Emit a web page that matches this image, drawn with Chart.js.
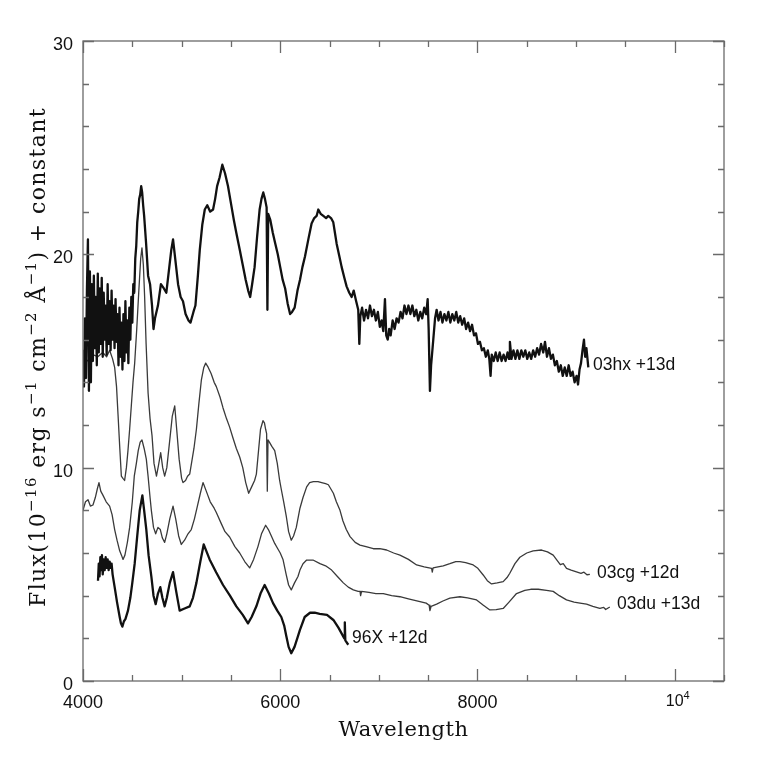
<!DOCTYPE html>
<html>
<head>
<meta charset="utf-8">
<script src="https://cdn.jsdelivr.net/npm/chart.js@4.4.1/dist/chart.umd.min.js"></script>
<style>
  html, body { margin: 0; padding: 0; background: #fff; }
  #wrap { width: 764px; height: 763px; }
</style>
</head>
<body>
<div id="wrap"><canvas id="spec" width="764" height="763"></canvas></div>
<script>
// spectra (wavelength in Å, flux + constant)
const hxWave = [4000,4010,4020,4030,4040,4050,4060,4070,4080,4090,4100,4110,4120,4130,4140,4150,4160,4170,4180,4190,
  4200,4210,4220,4230,4240,4250,4260,4270,4280,4290,4300,4310,4320,4330,4340,4350,4360,4370,4380,4390,
  4400,4410,4420,4430,4440,4450,4460,4470,4480,4490,4500,4510,4520,4530,4540,4550,4560,4570,4580,4590,
  4600,4610,4620,4640,4660,4680,4700,4715,4730,4760,4790,4820,4845,4870,4895,4913,4935,4964,4990,5014,
  5040,5070,5090,5120,5140,5165,5184,5210,5235,5260,5290,5319,5340,5360,5385,5413,5440,5470,5500,5530,
  5555,5590,5620,5650,5675,5695,5715,5740,5765,5791,5810,5828,5845,5862,5870,5878,5900,5925,5950,5975,
  6000,6025,6050,6075,6100,6120,6146,6175,6200,6225,6251,6285,6318,6345,6369,6386,6410,6437,6465,6487,
  6515,6538,6555,6572,6600,6623,6650,6673,6700,6724,6745,6770,6791,6802,
  6812,6830,6850,6870,6890,6910,6930,6950,6970,6990,7010,7028,7045,7062,7075,7090,7105,7120,7140,7160,
  7180,7200,7220,7240,7260,7280,7300,7320,7340,7360,7380,7400,7420,7440,7460,7480,7495,7505,7518,7530,
  7552,7570,7586,7605,7625,7645,7665,7685,7705,7725,7745,7765,7785,7805,7825,7845,7865,7885,7905,7925,
  7945,7965,7985,8005,8025,8045,8065,8085,8105,8120,8133,8145,8165,8185,8205,8225,8245,8265,8285,8305,
  8320,8329,8345,8365,8385,8405,8425,8445,8465,8485,8505,8525,8545,8565,8585,8605,8625,8645,8667,8685,
  8705,8725,8745,8765,8785,8805,8825,8845,8865,8885,8905,8925,8945,8965,8985,9005,9020,9035,9050,9065,
  9080,9092,9105,9124];
const hxFlux = [15.5,13.8,17.0,14.2,18.4,20.7,13.6,19.2,14.0,18.6,15.0,19.0,15.6,18.0,14.8,19.1,15.4,18.4,15.8,18.9,
  15.2,18.2,16.0,17.6,15.3,18.6,15.8,17.8,15.5,18.3,16.0,17.6,15.6,17.9,15.9,17.2,14.8,17.5,15.2,16.8,
  14.6,17.2,15.0,17.8,15.4,16.9,14.9,17.5,16.0,18.0,16.8,18.6,18.2,19.8,20.4,21.5,22.0,22.6,22.8,23.2,
  22.9,22.3,21.8,20.5,19.0,18.6,17.6,16.5,17.0,17.6,18.6,18.4,18.2,19.2,20.2,20.7,19.8,18.6,18.0,17.8,
  17.2,16.9,16.8,17.3,17.6,19.0,20.2,21.4,22.1,22.3,22.0,22.1,22.6,23.2,23.6,24.2,23.8,23.2,22.4,21.6,
  21.0,20.2,19.5,18.8,18.3,18.0,18.6,19.4,20.8,22.1,22.6,22.9,22.6,22.2,17.4,21.9,21.6,21.0,20.5,20.0,
  19.4,18.8,18.4,17.7,17.2,17.3,17.5,18.3,18.8,19.4,19.9,20.7,21.45,21.7,21.8,22.1,21.9,21.8,21.7,21.8,
  21.7,21.5,21.0,20.5,19.9,19.4,18.9,18.5,18.2,18.0,18.3,17.8,17.4,15.8,
  17.1,17.5,16.9,17.4,17.0,17.6,17.1,17.4,16.9,17.3,16.6,16.9,16.4,17.9,16.2,16.0,16.5,16.2,16.9,16.5,
  17.0,16.8,17.3,17.0,17.6,17.2,17.6,17.2,17.6,17.1,17.4,16.9,17.3,17.0,17.5,17.2,17.9,16.5,13.6,14.8,
  16.0,17.0,17.4,16.9,17.3,16.8,17.2,16.9,17.3,16.8,17.2,16.9,17.3,16.8,17.1,16.7,17.0,16.5,16.8,16.4,
  16.7,16.2,16.3,15.8,15.9,15.5,15.6,15.2,15.5,15.1,14.3,15.3,15.0,15.4,15.0,15.4,15.0,15.3,15.0,15.4,
  15.1,15.9,15.1,15.5,15.1,15.5,15.1,15.5,15.2,15.5,15.1,15.4,15.1,15.5,15.2,15.6,15.3,15.8,15.4,15.9,
  15.2,15.6,15.1,15.3,14.8,15.0,14.5,14.8,14.3,14.7,14.3,14.8,14.3,14.5,14.0,14.3,13.9,14.6,14.9,15.5,
  16.0,15.2,15.6,14.7];

const cgWave = [4000,4050,4100,4150,4200,4240,4270,4300,4321,4340,4355,4372,4389,4405,4422,4440,4456,4473,4490,4507,
  4524,4545,4565,4585,4598,4612,4625,4640,4660,4680,4700,4720,4745,4765,4788,4808,4828,4850,4880,4905,
  4930,4950,4975,5000,5014,5040,5060,5082,5100,5125,5150,5175,5200,5225,5244,5270,5300,5330,5352,5390,
  5420,5455,5487,5520,5555,5589,5620,5650,5680,5710,5740,5758,5780,5800,5825,5840,5852,5862,5869,5876,
  5890,5915,5944,5970,5994,6010,6035,6062,6085,6112,6135,6163,6200,6231,6268,6298,6336,6383,6420,6460,
  6488,6539,6569,6606,6636,6670,6708,6760,6809,6870,6944,7010,7079,7150,7214,7300,7383,7460,7535,7542,
  7550,7600,7653,7720,7780,7822,7880,7957,8000,8058,8100,8143,8200,8261,8300,8328,8380,8430,8500,8565,
  8650,8710,8768,8800,8840,8870,8903,8950,9004,9050,9080,9110,9140];
const cgFlux = [15.2,15.0,15.3,15.2,15.4,15.2,15.5,15.1,14.7,13.8,12.5,11.0,9.6,9.5,9.4,10.0,10.8,11.8,12.9,14.0,
  14.9,16.5,18.2,19.8,20.3,19.5,18.0,15.8,13.5,12.3,11.5,10.2,9.6,10.1,10.7,10.0,9.6,10.0,11.3,12.4,
  12.9,11.8,10.4,9.5,9.3,9.4,9.6,9.7,10.2,10.9,11.8,13.0,14.1,14.7,14.9,14.7,14.4,14.0,13.8,13.3,
  12.8,12.3,11.9,11.4,10.9,10.5,10.0,9.3,8.8,9.1,9.4,9.7,10.8,11.8,12.2,12.1,11.8,11.6,8.9,11.3,
  11.2,11.0,10.8,10.2,9.4,9.0,8.4,7.7,7.0,6.6,6.8,7.2,8.1,8.6,9.1,9.3,9.35,9.35,9.3,9.25,
  9.2,8.8,8.4,8.0,7.5,7.1,6.77,6.5,6.37,6.3,6.2,6.2,6.14,6.0,5.9,5.7,5.44,5.35,5.28,5.1,
  5.3,5.35,5.4,5.5,5.6,5.6,5.55,5.44,5.3,4.97,4.7,4.55,4.6,4.66,4.85,5.05,5.5,5.8,6.0,6.1,
  6.14,6.05,5.9,5.7,5.45,5.5,5.28,5.2,5.12,5.05,5.1,4.98,5.0];

const duWave = [4000,4025,4051,4075,4101,4125,4145,4162,4180,4203,4235,4270,4295,4321,4345,4372,4390,4406,4425,4450,
  4473,4500,4520,4541,4560,4580,4598,4620,4642,4660,4680,4693,4715,4737,4760,4784,4805,4828,4850,4880,
  4913,4940,4970,4997,5030,5065,5098,5130,5160,5190,5217,5250,5290,5330,5352,5400,5440,5487,5540,5589,
  5640,5690,5730,5774,5810,5852,5880,5910,5944,5975,6000,6028,6060,6085,6112,6145,6180,6200,6231,6268,
  6332,6403,6460,6521,6580,6640,6690,6741,6790,6809,6815,6825,6900,6970,7045,7130,7214,7300,7417,7480,
  7510,7518,7530,7586,7650,7720,7822,7900,7991,8060,8126,8190,8261,8320,8396,8480,8540,8616,8700,8768,
  8830,8903,8980,9040,9106,9170,9241,9280,9300,9342];
const duFlux = [8.0,8.4,8.5,8.2,8.25,8.6,9.0,9.3,8.9,8.7,8.4,8.2,7.8,7.1,6.6,6.1,5.9,5.7,5.9,6.5,
  7.2,8.4,9.6,10.2,10.8,11.2,11.3,10.9,10.4,9.6,8.6,8.0,7.2,6.9,7.2,7.1,6.7,6.5,6.9,7.6,
  8.2,7.6,6.8,6.4,6.6,6.9,7.1,7.6,8.2,8.8,9.3,8.9,8.4,8.1,7.9,7.4,7.0,6.75,6.3,6.0,
  5.6,5.3,5.7,6.3,6.9,7.3,7.1,6.8,6.45,6.2,6.0,5.7,5.0,4.5,4.27,4.6,4.9,5.2,5.5,5.67,
  5.67,5.5,5.4,5.2,4.9,4.6,4.4,4.27,4.2,4.2,4.0,4.2,4.15,4.1,4.1,4.0,3.95,3.85,3.72,3.65,
  3.55,3.3,3.5,3.6,3.75,3.88,3.95,3.9,3.8,3.55,3.33,3.35,3.4,3.7,4.1,4.25,4.3,4.3,4.25,4.2,
  4.0,3.8,3.7,3.65,3.6,3.5,3.4,3.45,3.35,3.47];

const x96Wave = [4152,4160,4168,4176,4184,4192,4200,4210,4220,4230,4240,4250,4260,4270,4280,4290,4300,4321,4345,4372,
  4385,4399,4415,4430,4456,4480,4500,4524,4550,4575,4602,4620,4642,4665,4693,4715,4737,4760,4784,4805,
  4828,4850,4880,4913,4945,4980,5030,5082,5115,5150,5190,5224,5250,5284,5350,5420,5490,5555,5620,5673,
  5710,5758,5800,5842,5885,5927,5970,6011,6040,6062,6085,6112,6145,6180,6200,6248,6302,6350,6400,6474,
  6539,6590,6640,6650,6655,6660,6690];
const x96Flux = [4.7,5.5,4.9,5.8,5.2,5.9,5.0,5.7,5.2,5.8,5.3,5.7,5.2,5.6,5.3,5.5,5.0,4.4,3.7,3.0,
  2.7,2.55,2.8,2.9,3.3,3.9,4.6,5.5,6.8,8.0,8.7,8.0,7.1,5.9,4.9,4.0,3.6,4.1,4.4,3.9,
  3.5,3.9,4.6,5.1,4.2,3.3,3.4,3.5,3.9,4.6,5.6,6.4,6.1,5.7,5.1,4.5,4.0,3.5,3.1,2.7,
  3.0,3.5,4.1,4.5,4.1,3.65,3.3,3.0,2.6,2.1,1.6,1.3,1.6,2.1,2.4,3.0,3.2,3.2,3.15,3.1,
  2.86,2.5,2.08,2.0,2.75,1.9,1.7];

const seriesNames = ['03hx +13d', '03cg +12d', '03du +13d', '96X +12d'];
// where each name sits, in data units (wavelength, flux)
const nameAnchors = [[9171, 14.86], [9212, 5.11], [9415, 3.66], [6728, 2.06]];

const xMajorTicks = [4000, 6000, 8000, 10000];
const xTickLabels = ['4000', '6000', '8000', '10^4'];
const xMinorStep = 500;
const yMajorTicks = [0, 10, 20, 30];
const yMinorStep = 2;

function pairs(w, f) { return w.map((x, i) => ({ x: x, y: f[i] })); }

// split "a^{b}c" into plain / superscript runs
function richParts(str) {
  const out = [];
  const re = /\^\{([^}]*)\}|\^(\S)/g;
  let last = 0, m;
  while ((m = re.exec(str))) {
    if (m.index > last) out.push({ t: str.slice(last, m.index), sup: false });
    out.push({ t: m[1] !== undefined ? m[1] : m[2], sup: true });
    last = re.lastIndex;
  }
  if (last < str.length) out.push({ t: str.slice(last), sup: false });
  return out;
}
// fitWidth: stretch letter spacing so the whole string is that wide
function drawRich(ctx, str, x, y, size, family, align, fitWidth) {
  const parts = richParts(str);
  const supSize = Math.round(size * 0.68);
  let natural = 0, chars = 0;
  if ('letterSpacing' in ctx) ctx.letterSpacing = '0px';
  parts.forEach(p => {
    ctx.font = (p.sup ? supSize : size) + 'px ' + family;
    p.w = ctx.measureText(p.t).width;
    natural += p.w;
    chars += p.t.length;
  });
  let sp = 0;
  if (fitWidth && 'letterSpacing' in ctx) sp = (fitWidth - natural) / chars;
  const total = natural + sp * chars;
  let cx = align === 'center' ? x - total / 2 : align === 'right' ? x - total : x;
  ctx.textAlign = 'left';
  ctx.textBaseline = 'alphabetic';
  if (sp) ctx.letterSpacing = sp.toFixed(2) + 'px';
  parts.forEach(p => {
    ctx.font = (p.sup ? supSize : size) + 'px ' + family;
    ctx.fillText(p.t, cx, p.sup ? y - size * 0.42 : y);
    cx += p.w + sp * p.t.length;
  });
  if ('letterSpacing' in ctx) ctx.letterSpacing = '0px';
  return total;
}

const framePlugin = {
  id: 'frame',
  afterDatasetsDraw(chart) {
    const { ctx, chartArea: a, scales } = chart;
    const xs = scales.x, ys = scales.y;
    ctx.save();
    ctx.strokeStyle = '#6a6a6a';
    ctx.lineWidth = 1.3;
    ctx.strokeRect(a.left, a.top, a.right - a.left, a.bottom - a.top);

    ctx.beginPath();
    for (let v = xs.min; v <= xs.max; v += xMinorStep) {
      const px = Math.round(xs.getPixelForValue(v)) + 0.5;
      const len = xMajorTicks.includes(v) ? 12 : 6;
      ctx.moveTo(px, a.bottom); ctx.lineTo(px, a.bottom - len);
      ctx.moveTo(px, a.top); ctx.lineTo(px, a.top + len);
    }
    for (let v = ys.min; v <= ys.max; v += yMinorStep) {
      const py = Math.round(ys.getPixelForValue(v)) + 0.5;
      const len = yMajorTicks.includes(v) ? 11 : 6;
      ctx.moveTo(a.left, py); ctx.lineTo(a.left + len, py);
      ctx.moveTo(a.right, py); ctx.lineTo(a.right - len, py);
    }
    ctx.stroke();

    // tick labels
    ctx.fillStyle = '#111';
    const sans = '"Liberation Sans", Arial, sans-serif';
    xMajorTicks.forEach((v, i) => {
      const px = xs.getPixelForValue(v);
      if (xTickLabels[i].includes('^')) {
        drawRich(ctx, xTickLabels[i], px + 3, a.bottom + 25, 16, sans, 'center');
      } else {
        drawRich(ctx, xTickLabels[i], px, a.bottom + 27, 18, sans, 'center');
      }
    });
    yMajorTicks.forEach(v => {
      const py = ys.getPixelForValue(v);
      drawRich(ctx, String(v), a.left - 10, py + 9, 18, sans, 'right');
    });

    // axis titles
    const serif = '"DejaVu Serif", "Liberation Serif", serif';
    drawRich(ctx, 'Wavelength', (a.left + a.right) / 2, a.bottom + 55, 21, serif, 'center', 130);
    ctx.save();
    ctx.translate(45, (a.top + a.bottom) / 2 - 4);
    ctx.rotate(-Math.PI / 2);
    drawRich(ctx, 'Flux(10^{\u221216} erg s^{\u22121} cm^{\u22122} \u00c5^{\u22121}) + constant', 0, 0, 22, serif, 'center', 500);
    ctx.restore();

    // spectrum names
    seriesNames.forEach((n, i) => {
      const px = xs.getPixelForValue(nameAnchors[i][0]);
      const py = ys.getPixelForValue(nameAnchors[i][1]);
      drawRich(ctx, n, px, py + 6, 17.5, sans, 'left');
    });
    ctx.restore();
  }
};

new Chart(document.getElementById('spec'), {
  type: 'line',
  data: {
    datasets: [
      { label: seriesNames[0], data: pairs(hxWave, hxFlux), borderColor: '#111', borderWidth: 2.3 },
      { label: seriesNames[1], data: pairs(cgWave, cgFlux), borderColor: '#3a3a3a', borderWidth: 1.3 },
      { label: seriesNames[2], data: pairs(duWave, duFlux), borderColor: '#3a3a3a', borderWidth: 1.3 },
      { label: seriesNames[3], data: pairs(x96Wave, x96Flux), borderColor: '#111', borderWidth: 2.3 }
    ]
  },
  options: {
    responsive: false,
    animation: false,
    layout: { padding: { left: 83, right: 40, top: 41, bottom: 82 } },
    elements: { point: { radius: 0 }, line: { tension: 0, borderJoinStyle: 'round' } },
    scales: {
      x: { type: 'linear', min: 4000, max: 10500, display: false },
      y: { type: 'linear', min: 0, max: 30, display: false }
    },
    plugins: { legend: { display: false }, tooltip: { enabled: false } }
  },
  plugins: [framePlugin]
});
</script>
</body>
</html>
